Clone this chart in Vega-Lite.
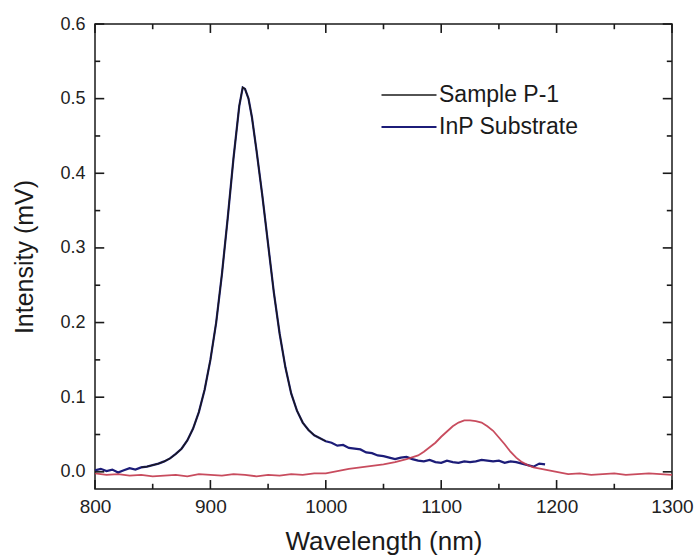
{
  "$schema": "https://vega.github.io/schema/vega-lite/v6.json",
  "width": 577,
  "height": 465,
  "autosize": "none",
  "padding": {"left": 95, "top": 24, "right": 23, "bottom": 67},
  "background": "white",
  "config": {
    "view": {"stroke": "#1a1a1a", "strokeWidth": 1.5},
    "font": "Liberation Sans",
    "axis": {"grid": false, "domain": false, "ticks": false, "labelColor": "#222", "titleColor": "#1a1a1a", "labelFont": "Liberation Sans", "titleFont": "Liberation Sans", "titleFontSize": 26, "titleFontWeight": "normal"}
  },
  "datasets": {
    "xt": [
      {"v":800,"k":"major"},{"v":850,"k":"minor"},{"v":900,"k":"major"},{"v":950,"k":"minor"},{"v":1000,"k":"major"},{"v":1050,"k":"minor"},{"v":1100,"k":"major"},{"v":1150,"k":"minor"},{"v":1200,"k":"major"},{"v":1250,"k":"minor"},{"v":1300,"k":"major"}
    ],
    "yt": [
      {"v":0,"k":"major"},{"v":0.05,"k":"minor"},{"v":0.1,"k":"major"},{"v":0.15,"k":"minor"},{"v":0.2,"k":"major"},{"v":0.25,"k":"minor"},{"v":0.3,"k":"major"},{"v":0.35,"k":"minor"},{"v":0.4,"k":"major"},{"v":0.45,"k":"minor"},{"v":0.5,"k":"major"},{"v":0.55,"k":"minor"},{"v":0.6,"k":"major"}
    ],
    "inp": [
      {"s":"InP Substrate","x":800,"y":0.002},{"s":"InP Substrate","x":805,"y":0.004},{"s":"InP Substrate","x":810,"y":0.001},{"s":"InP Substrate","x":815,"y":0.003},{"s":"InP Substrate","x":820,"y":-0.001},{"s":"InP Substrate","x":825,"y":0.002},{"s":"InP Substrate","x":830,"y":0.005},{"s":"InP Substrate","x":835,"y":0.003},{"s":"InP Substrate","x":840,"y":0.006},{"s":"InP Substrate","x":845,"y":0.007},{"s":"InP Substrate","x":850,"y":0.009},{"s":"InP Substrate","x":855,"y":0.011},{"s":"InP Substrate","x":860,"y":0.014},{"s":"InP Substrate","x":865,"y":0.018},{"s":"InP Substrate","x":870,"y":0.024},{"s":"InP Substrate","x":875,"y":0.031},{"s":"InP Substrate","x":880,"y":0.042},{"s":"InP Substrate","x":885,"y":0.058},{"s":"InP Substrate","x":890,"y":0.08},{"s":"InP Substrate","x":895,"y":0.11},{"s":"InP Substrate","x":900,"y":0.15},{"s":"InP Substrate","x":905,"y":0.2},{"s":"InP Substrate","x":910,"y":0.265},{"s":"InP Substrate","x":915,"y":0.34},{"s":"InP Substrate","x":920,"y":0.42},{"s":"InP Substrate","x":925,"y":0.49},{"s":"InP Substrate","x":928,"y":0.515},{"s":"InP Substrate","x":930,"y":0.513},{"s":"InP Substrate","x":933,"y":0.5},{"s":"InP Substrate","x":936,"y":0.475},{"s":"InP Substrate","x":940,"y":0.43},{"s":"InP Substrate","x":945,"y":0.37},{"s":"InP Substrate","x":950,"y":0.305},{"s":"InP Substrate","x":955,"y":0.24},{"s":"InP Substrate","x":960,"y":0.185},{"s":"InP Substrate","x":965,"y":0.14},{"s":"InP Substrate","x":970,"y":0.105},{"s":"InP Substrate","x":975,"y":0.082},{"s":"InP Substrate","x":980,"y":0.066},{"s":"InP Substrate","x":985,"y":0.056},{"s":"InP Substrate","x":990,"y":0.049},{"s":"InP Substrate","x":995,"y":0.045},{"s":"InP Substrate","x":1000,"y":0.041},{"s":"InP Substrate","x":1005,"y":0.039},{"s":"InP Substrate","x":1010,"y":0.035},{"s":"InP Substrate","x":1015,"y":0.036},{"s":"InP Substrate","x":1020,"y":0.032},{"s":"InP Substrate","x":1025,"y":0.031},{"s":"InP Substrate","x":1030,"y":0.03},{"s":"InP Substrate","x":1035,"y":0.026},{"s":"InP Substrate","x":1040,"y":0.025},{"s":"InP Substrate","x":1045,"y":0.022},{"s":"InP Substrate","x":1050,"y":0.021},{"s":"InP Substrate","x":1055,"y":0.019},{"s":"InP Substrate","x":1060,"y":0.017},{"s":"InP Substrate","x":1065,"y":0.019},{"s":"InP Substrate","x":1070,"y":0.02},{"s":"InP Substrate","x":1075,"y":0.017},{"s":"InP Substrate","x":1080,"y":0.015},{"s":"InP Substrate","x":1085,"y":0.014},{"s":"InP Substrate","x":1090,"y":0.016},{"s":"InP Substrate","x":1095,"y":0.013},{"s":"InP Substrate","x":1100,"y":0.012},{"s":"InP Substrate","x":1105,"y":0.015},{"s":"InP Substrate","x":1110,"y":0.013},{"s":"InP Substrate","x":1115,"y":0.012},{"s":"InP Substrate","x":1120,"y":0.014},{"s":"InP Substrate","x":1125,"y":0.013},{"s":"InP Substrate","x":1130,"y":0.014},{"s":"InP Substrate","x":1135,"y":0.016},{"s":"InP Substrate","x":1140,"y":0.015},{"s":"InP Substrate","x":1145,"y":0.014},{"s":"InP Substrate","x":1150,"y":0.015},{"s":"InP Substrate","x":1155,"y":0.012},{"s":"InP Substrate","x":1160,"y":0.014},{"s":"InP Substrate","x":1165,"y":0.013},{"s":"InP Substrate","x":1170,"y":0.011},{"s":"InP Substrate","x":1175,"y":0.009},{"s":"InP Substrate","x":1180,"y":0.007},{"s":"InP Substrate","x":1185,"y":0.011},{"s":"InP Substrate","x":1190,"y":0.01}
    ],
    "sample": [
      {"s":"Sample P-1","x":840,"y":0.006},{"s":"Sample P-1","x":845,"y":0.007},{"s":"Sample P-1","x":850,"y":0.009},{"s":"Sample P-1","x":855,"y":0.011},{"s":"Sample P-1","x":860,"y":0.014},{"s":"Sample P-1","x":865,"y":0.018},{"s":"Sample P-1","x":870,"y":0.024},{"s":"Sample P-1","x":875,"y":0.031},{"s":"Sample P-1","x":880,"y":0.042},{"s":"Sample P-1","x":885,"y":0.058},{"s":"Sample P-1","x":890,"y":0.08},{"s":"Sample P-1","x":895,"y":0.11},{"s":"Sample P-1","x":900,"y":0.15},{"s":"Sample P-1","x":905,"y":0.2},{"s":"Sample P-1","x":910,"y":0.265},{"s":"Sample P-1","x":915,"y":0.34},{"s":"Sample P-1","x":920,"y":0.42},{"s":"Sample P-1","x":925,"y":0.49},{"s":"Sample P-1","x":928,"y":0.515},{"s":"Sample P-1","x":930,"y":0.513},{"s":"Sample P-1","x":933,"y":0.5},{"s":"Sample P-1","x":936,"y":0.475},{"s":"Sample P-1","x":940,"y":0.43},{"s":"Sample P-1","x":945,"y":0.37},{"s":"Sample P-1","x":950,"y":0.305},{"s":"Sample P-1","x":955,"y":0.24},{"s":"Sample P-1","x":960,"y":0.185},{"s":"Sample P-1","x":965,"y":0.14},{"s":"Sample P-1","x":970,"y":0.105},{"s":"Sample P-1","x":975,"y":0.082},{"s":"Sample P-1","x":980,"y":0.066},{"s":"Sample P-1","x":985,"y":0.056},{"s":"Sample P-1","x":990,"y":0.049},{"s":"Sample P-1","x":995,"y":0.045},{"s":"Sample P-1","x":1000,"y":0.041}
    ],
    "red": [
      {"x":800,"y":-0.002},{"x":810,"y":-0.004},{"x":820,"y":-0.003},{"x":830,"y":-0.005},{"x":840,"y":-0.004},{"x":850,"y":-0.006},{"x":860,"y":-0.005},{"x":870,"y":-0.004},{"x":880,"y":-0.006},{"x":890,"y":-0.003},{"x":900,"y":-0.004},{"x":910,"y":-0.005},{"x":920,"y":-0.003},{"x":930,"y":-0.004},{"x":940,"y":-0.006},{"x":950,"y":-0.004},{"x":960,"y":-0.005},{"x":970,"y":-0.003},{"x":980,"y":-0.004},{"x":990,"y":-0.002},{"x":1000,"y":-0.002},{"x":1010,"y":0.001},{"x":1020,"y":0.004},{"x":1030,"y":0.006},{"x":1040,"y":0.008},{"x":1050,"y":0.01},{"x":1060,"y":0.013},{"x":1070,"y":0.017},{"x":1080,"y":0.022},{"x":1085,"y":0.027},{"x":1090,"y":0.033},{"x":1095,"y":0.039},{"x":1100,"y":0.047},{"x":1105,"y":0.054},{"x":1110,"y":0.061},{"x":1115,"y":0.066},{"x":1120,"y":0.069},{"x":1125,"y":0.069},{"x":1130,"y":0.068},{"x":1135,"y":0.066},{"x":1140,"y":0.061},{"x":1145,"y":0.055},{"x":1150,"y":0.046},{"x":1155,"y":0.037},{"x":1160,"y":0.027},{"x":1165,"y":0.019},{"x":1170,"y":0.013},{"x":1175,"y":0.009},{"x":1180,"y":0.006},{"x":1190,"y":0.003},{"x":1200,"y":0.0},{"x":1210,"y":-0.003},{"x":1220,"y":-0.002},{"x":1230,"y":-0.004},{"x":1240,"y":-0.003},{"x":1250,"y":-0.002},{"x":1260,"y":-0.004},{"x":1270,"y":-0.003},{"x":1280,"y":-0.002},{"x":1290,"y":-0.003},{"x":1300,"y":-0.004}
    ]
  },
  "layer": [
    {
      "data": {"name": "inp"},
      "mark": {"type": "line"},
      "encoding": {
        "x": {"field": "x", "type": "quantitative", "scale": {"domain": [800, 1300], "nice": false},
          "axis": {"title": "Wavelength (nm)", "values": [800,900,1000,1100,1200,1300], "format": "d", "labelFontSize": 19,
            "labelPadding": 8, "titlePadding": 12, "labelFlush": false}},
        "y": {"field": "y", "type": "quantitative", "scale": {"domain": [-0.023, 0.6], "nice": false, "zero": false},
          "axis": {"title": "Intensity (mV)", "values": [0,0.1,0.2,0.3,0.4,0.5,0.6], "format": ".1f", "labelFontSize": 18, "titleFontSize": 25,
            "labelPadding": 10, "titlePadding": 22}},
        "color": {"field": "s", "type": "nominal", "scale": {"domain": ["Sample P-1", "InP Substrate"], "range": ["#1a1a1a", "#1c1c78"]},
          "legend": {"title": null, "orient": "none", "legendX": 285, "legendY": 55, "symbolType": "stroke", "symbolSize": 3025, "labelFontSize": 23, "labelColor": "#1a1a1a", "labelFont": "Liberation Sans", "clipHeight": 32, "rowPadding": 0, "labelOffset": 1, "symbolOpacity": 1}},
        "strokeWidth": {"field": "s", "type": "nominal", "scale": {"domain": ["Sample P-1", "InP Substrate"], "range": [1.3, 2.2]}, "legend": null}
      }
    },
    {
      "data": {"name": "red"},
      "mark": {"type": "line", "color": "#c2384c", "strokeWidth": 1.8, "opacity": 0.9},
      "encoding": {
        "x": {"field": "x", "type": "quantitative", "axis": null},
        "y": {"field": "y", "type": "quantitative", "axis": null}
      }
    },
    {
      "data": {"name": "sample"},
      "mark": {"type": "line"},
      "encoding": {
        "x": {"field": "x", "type": "quantitative", "axis": null},
        "y": {"field": "y", "type": "quantitative", "axis": null},
        "color": {"field": "s", "type": "nominal"},
        "strokeWidth": {"field": "s", "type": "nominal", "legend": null}
      }
    },
    {
      "data": {"name": "xt"},
      "transform": [{"filter": "datum.k === 'major'"}],
      "mark": {"type": "rule", "color": "#1a1a1a", "strokeWidth": 1.6},
      "encoding": {
        "x": {"field": "v", "type": "quantitative", "axis": null},
        "y": {"datum": -0.023, "type": "quantitative", "axis": null},
        "y2": {"datum": -0.011}
      }
    },
    {
      "data": {"name": "xt"},
      "transform": [{"filter": "datum.k === 'minor'"}],
      "mark": {"type": "rule", "color": "#1a1a1a", "strokeWidth": 1.6},
      "encoding": {
        "x": {"field": "v", "type": "quantitative", "axis": null},
        "y": {"datum": -0.023, "type": "quantitative", "axis": null},
        "y2": {"datum": -0.016}
      }
    },
    {
      "data": {"name": "xt"},
      "transform": [{"filter": "datum.k === 'major'"}],
      "mark": {"type": "rule", "color": "#1a1a1a", "strokeWidth": 1.6},
      "encoding": {
        "x": {"field": "v", "type": "quantitative", "axis": null},
        "y": {"datum": 0.6, "type": "quantitative", "axis": null},
        "y2": {"datum": 0.588}
      }
    },
    {
      "data": {"name": "xt"},
      "transform": [{"filter": "datum.k === 'minor'"}],
      "mark": {"type": "rule", "color": "#1a1a1a", "strokeWidth": 1.6},
      "encoding": {
        "x": {"field": "v", "type": "quantitative", "axis": null},
        "y": {"datum": 0.6, "type": "quantitative", "axis": null},
        "y2": {"datum": 0.593}
      }
    },
    {
      "data": {"name": "yt"},
      "transform": [{"filter": "datum.k === 'major'"}],
      "mark": {"type": "rule", "color": "#1a1a1a", "strokeWidth": 1.6},
      "encoding": {
        "y": {"field": "v", "type": "quantitative", "axis": null},
        "x": {"datum": 800, "type": "quantitative", "axis": null},
        "x2": {"datum": 808}
      }
    },
    {
      "data": {"name": "yt"},
      "transform": [{"filter": "datum.k === 'minor'"}],
      "mark": {"type": "rule", "color": "#1a1a1a", "strokeWidth": 1.6},
      "encoding": {
        "y": {"field": "v", "type": "quantitative", "axis": null},
        "x": {"datum": 800, "type": "quantitative", "axis": null},
        "x2": {"datum": 804.5}
      }
    },
    {
      "data": {"name": "yt"},
      "transform": [{"filter": "datum.k === 'major'"}],
      "mark": {"type": "rule", "color": "#1a1a1a", "strokeWidth": 1.6},
      "encoding": {
        "y": {"field": "v", "type": "quantitative", "axis": null},
        "x": {"datum": 1300, "type": "quantitative", "axis": null},
        "x2": {"datum": 1292}
      }
    },
    {
      "data": {"name": "yt"},
      "transform": [{"filter": "datum.k === 'minor'"}],
      "mark": {"type": "rule", "color": "#1a1a1a", "strokeWidth": 1.6},
      "encoding": {
        "y": {"field": "v", "type": "quantitative", "axis": null},
        "x": {"datum": 1300, "type": "quantitative", "axis": null},
        "x2": {"datum": 1295.5}
      }
    }
  ],
  "resolve": {"axis": {"x": "independent", "y": "independent"}}
}
